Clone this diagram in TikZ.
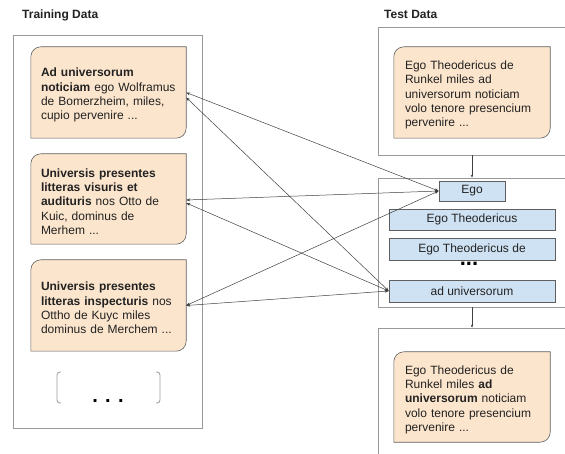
\documentclass[tikz,border=0pt]{standalone}
\usepackage{fontspec}
\setmainfont{Liberation Sans}
\usetikzlibrary{arrows.meta,calc,backgrounds}
\definecolor{orfill}{HTML}{FCE5CD}
\definecolor{blfill}{HTML}{CFE2F3}
\definecolor{bord}{HTML}{5F5F5F}
\definecolor{outerc}{HTML}{999999}
\definecolor{lnk}{HTML}{404040}
\definecolor{txt}{HTML}{222222}
\newcommand\firstln{\rule{0pt}{14pt}}
\begin{document}
\begin{tikzpicture}[x=1pt,y=-1pt,
  outerbox/.style={draw=outerc, line width=0.8pt, minimum width=188pt, inner sep=0pt},
  textbox/.style={inner xsep=10pt, inner ysep=0pt, text width=135pt, minimum width=155pt, align=left, font=\fontsize{12}{14.3}\selectfont, text=txt},
  tokbox/.style={draw=bord, fill=blfill, line width=0.6pt, inner sep=0pt, font=\fontsize{12}{14}\selectfont, text=txt},
  titletext/.style={font=\bfseries\fontsize{12}{14}\selectfont, anchor=base west, inner sep=0pt, text=txt},
  link/.style={draw=lnk, line width=0.5pt, {Stealth[length=4pt,width=3pt]}-{Stealth[length=4pt,width=3pt]}},
  flow/.style={draw=lnk, line width=0.5pt, -{Stealth[length=3pt,width=2.5pt]}},
  orshape/.style={draw=bord, fill=orfill, line width=0.6pt},
]
\useasboundingbox (0,0) rectangle (565,454);
\clip (0,0) rectangle (565,454);

% titles
\node[titletext] (trt) at (22,18.5) {Training Data};
\node[titletext] (tet) at (384,18.5) {Test Data};

% outer frames
\node[outerbox, minimum width=189pt, minimum height=393pt] (left) at (107.5,231.5) {};
\node[outerbox, minimum height=128pt] (tbox) at (472,91) {};
\node[outerbox, minimum height=129pt] (mbox) at (472,242.5) {};
\node[outerbox, minimum height=128pt] (bbox) at (472,392) {};

% orange text boxes
\node[textbox, minimum height=91pt] (b1) at (108.5,92.5)
  {\firstln\textbf{Ad universorum}\\\textbf{noticiam} ego Wolframus\\de Bomerzheim, miles,\\cupio pervenire ...};
\node[textbox, minimum height=90pt] (b2) at (108.5,199)
  {\firstln\textbf{Universis presentes}\\\textbf{litteras visuris et}\\\textbf{audituris} nos Otto de\\Kuic, dominus de\\Merhem ...};
\node[textbox, minimum height=91pt] (b3) at (108.5,305.5)
  {\firstln\textbf{Universis presentes}\\\textbf{litteras inspecturis} nos\\Ottho de Kuyc miles\\dominus de Merchem ...};
\node[textbox, text width=134pt, minimum width=156pt, inner xsep=11pt, minimum height=91pt] (tq) at (472,92.5)
  {\firstln Ego Theodericus de\\Runkel miles ad\\universorum noticiam\\volo tenore presencium\\pervenire ...};
\node[textbox, text width=134pt, minimum width=156pt, inner xsep=11pt, minimum height=90pt] (bq) at (472,397)
  {\firstln Ego Theodericus de\\Runkel miles \textbf{ad}\\\textbf{universorum} noticiam\\volo tenore presencium\\pervenire ...};

\begin{scope}[on background layer]
  \fill[white] (0,0) rectangle (565,454);
  \foreach \n in {b1,b2,b3,tq,bq}{
    \path[orshape] (\n.south west) -- ($(\n.north west)+(0,10)$)
      .. controls ($(\n.north west)+(0,4.5)$) and ($(\n.north west)+(4.5,0)$) .. ($(\n.north west)+(10,0)$)
      -- (\n.north east) -- ($(\n.south east)+(0,-10)$)
      .. controls ($(\n.south east)+(0,-4.5)$) and ($(\n.south east)+(-4.5,0)$) .. ($(\n.south east)+(-10,0)$)
      -- cycle;
  }
\end{scope}

% more training data
\node[font=\bfseries\fontsize{20}{20}\selectfont, anchor=base, inner sep=0pt, text=black] (more) at (108,402.5) {. . .};
\draw[outerc, line width=0.8pt, rounded corners=3pt] (61,372) -- (57,372) -- (57,403) -- (61,403);
\draw[outerc, line width=0.8pt, rounded corners=3pt] (156,372) -- (160,372) -- (160,403) -- (156,403);

% token boxes
\node[tokbox, minimum width=66pt, minimum height=20pt] (e1) at (472,191) {Ego};
\node[tokbox, minimum width=166pt, minimum height=21pt] (e2) at (472,219.5) {Ego Theodericus};
\node[tokbox, minimum width=166pt, minimum height=22pt] (e3) at (472,249) {Ego Theodericus de};
\node[font=\bfseries\fontsize{22}{22}\selectfont, anchor=base, inner sep=0pt, text=black] (tdots) at (469,266) {...};
\node[tokbox, minimum width=166pt, minimum height=22pt] (e4) at (472,291) {ad universorum};

% flow arrows
\draw[flow] (tbox.south) -- (mbox.north);
\draw[flow] (mbox.south) -- (bbox.north);

% links
\draw[link] (b1.east) -- (e1.west);
\draw[link] ([yshift=-5pt]b1.east) -- (e4.west);
\draw[link] ([yshift=-1pt]b2.east) -- (e1.west);
\draw[link] ([yshift=-4pt]b2.east) -- (e4.west);
\draw[link] (b3.east) -- (e1.west);
\draw[link] (b3.east) -- (e4.west);
\end{tikzpicture}
\end{document}
